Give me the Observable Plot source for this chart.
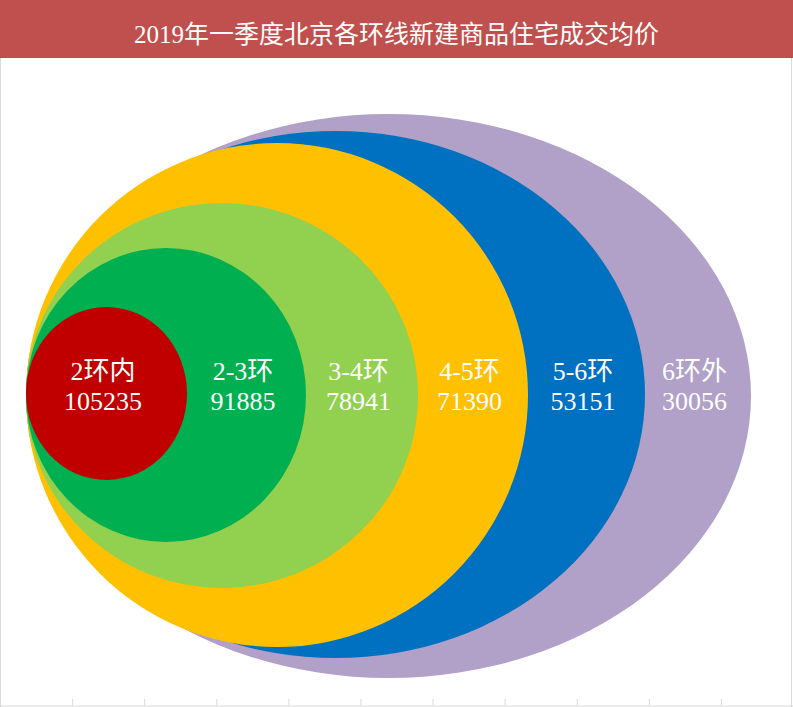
<!DOCTYPE html>
<html>
<head>
<meta charset="utf-8">
<script src="https://cdn.jsdelivr.net/npm/d3@7"></script>
<script src="https://cdn.jsdelivr.net/npm/@observablehq/plot@0.6"></script>
<style>
  body { margin: 0; background: #fff; }
  #wrap { position: relative; width: 793px; height: 707px; overflow: hidden; background: #fff; }
  #title { position: absolute; left: 0; top: 0; width: 793px; height: 58px; background: #C0504D; color: #fff;
           font: 25px "Liberation Serif", "Noto Sans CJK SC", serif; display: flex; align-items: center;
           justify-content: center; box-sizing: border-box; padding-top: 5px; }
  #chart { position: absolute; left: 0; top: 58px; }
  #axis { position: absolute; left: 0; top: 688px; }
  #border { position: absolute; left: 0; top: 58px; width: 790px; height: 649px;
            border-left: 1px solid #d9d9d9; border-right: 1px solid #d9d9d9; pointer-events: none; }
</style>
</head>
<body>
<div id="wrap">
  <div id="title"></div>
  <div id="chart"></div>
  <div id="axis"></div>
  <div id="border"></div>
</div>
<script>
// ---- data ----
const chartTitle = "2019年一季度北京各环线新建商品住宅成交均价";
const rings = ["2环内", "2-3环", "3-4环", "4-5环", "5-6环", "6环外"];
const prices = [105235, 91885, 78941, 71390, 53151, 30056];
const ringColors = ["#C00000", "#00B050", "#92D050", "#FFC000", "#0070C0", "#B1A0C7"];
const axisCategoryCount = 11;

// ---- table built from the arrays ----
const rows = rings.map((name, i) => ({ name, price: prices[i], order: i + 1 }));

document.getElementById("title").textContent = chartTitle;

const font = "'Liberation Serif', 'Noto Sans CJK SC', serif";

// nested ellipses: each ring spans from the shared left edge (0) to its order on x,
// and from -order to +order on y; rx/ry larger than half the size turn the rect into an ellipse
const chart = Plot.plot({
  width: 793,
  height: 630,
  margin: 0,
  style: { background: "none", overflow: "visible" },
  x: { type: "linear", axis: null, domain: [0, 1, 2, 3, 4, 5, 6], range: [26, 187, 306, 418, 528, 645, 751] },
  y: { type: "linear", axis: null,
       domain: [-6, -5, -4, -3, -2, -1, 0, 1, 2, 3, 4, 5, 6],
       range: [620, 600, 589, 530, 484, 422, 337, 249, 190, 145, 85, 73, 56] },
  color: { domain: rings, range: ringColors },
  marks: [
    Plot.rect(rows.slice().reverse(), {
      x1: 0, x2: "order",
      y1: d => -d.order, y2: "order",
      fill: "name", rx: 10000, ry: 10000
    }),
    Plot.text(rows, {
      x: d => d.order - 0.5, y: 0,
      text: d => `${d.name}\n${d.price}`,
      fill: "white", fontSize: 26, lineHeight: 1.15, fontFamily: font,
      dx: -4, dy: -10
    })
  ]
});
document.getElementById("chart").appendChild(chart);

// empty category axis at the bottom: baseline with tick marks between categories
const axis = Plot.plot({
  width: 793,
  height: 19,
  margin: 0,
  style: { background: "none", overflow: "visible" },
  x: { axis: null, domain: [0, axisCategoryCount] },
  y: { axis: null, domain: [0, 1], range: [17.5, 11] },
  marks: [
    Plot.ruleX(d3.range(1, axisCategoryCount), { y1: 0, y2: 1, stroke: "#d9d9d9" }),
    Plot.ruleY([0], { stroke: "#d9d9d9" })
  ]
});
document.getElementById("axis").appendChild(axis);
</script>
</body>
</html>
